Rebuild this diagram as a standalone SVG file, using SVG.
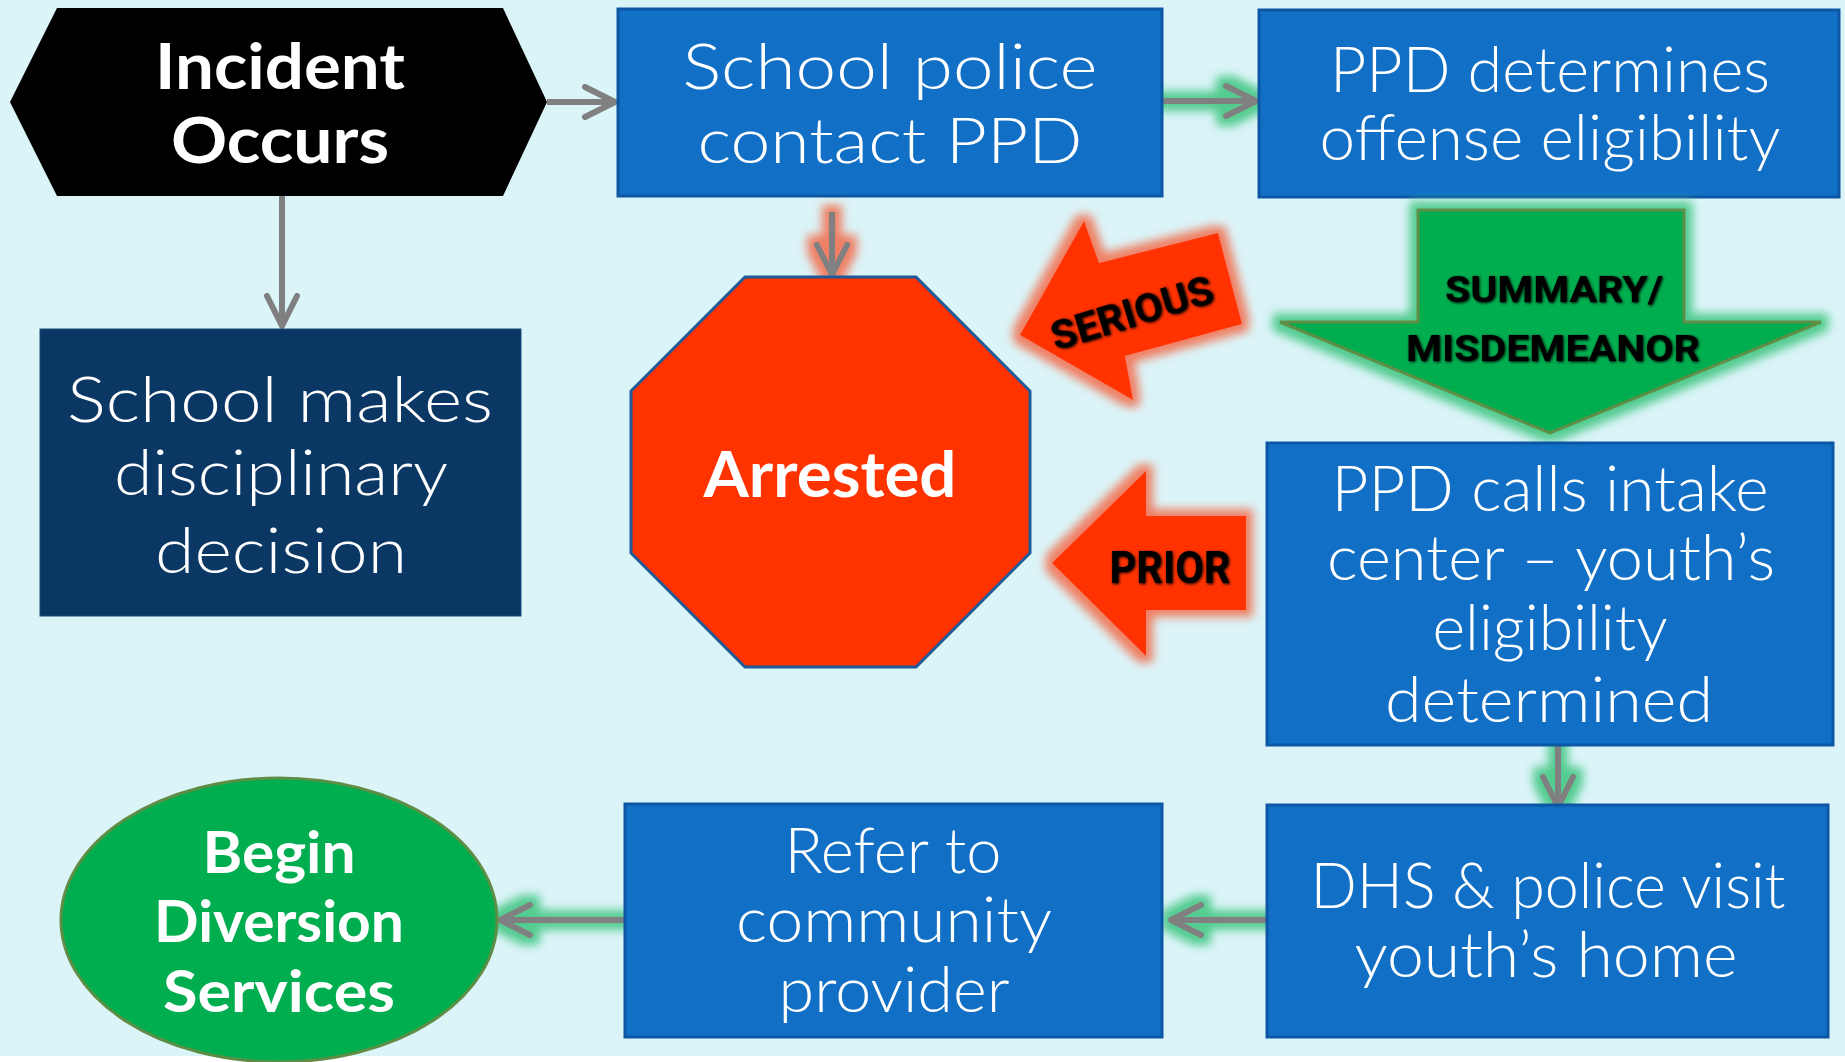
<svg xmlns="http://www.w3.org/2000/svg" width="1845" height="1062" viewBox="0 0 1845 1062">
<defs>
<style>
.bg{fill:#DBF4F8}
.box{fill:#1170C6;stroke:#0C57A3;stroke-width:3}
.navy{fill:#0B3764;stroke:#1A4A78;stroke-width:1}
.red{fill:#FF3300}
.grn{fill:#00AE4F;stroke:#5E8E45;stroke-width:3}
.t{font-family:"Century Gothic","Lato","Noto Sans",sans-serif;font-weight:300;font-size:64px;fill:#FFFFFF;text-anchor:middle}
.tb{font-family:"Century Gothic","Lato","Noto Sans",sans-serif;font-weight:700;fill:#FFFFFF;text-anchor:middle}
.lab{font-family:"Liberation Sans Narrow","Roboto","Liberation Sans",sans-serif;font-weight:700;fill:#000000;text-anchor:middle}
.con{stroke:#808080;stroke-width:6;fill:none;marker-end:url(#chev)}
</style>
<marker id="chev" viewBox="0 0 38 36" refX="34" refY="18" markerWidth="38" markerHeight="36" markerUnits="userSpaceOnUse" orient="auto">
<path d="M4,3 L34,18 L4,33" fill="none" stroke="#808080" stroke-width="6" stroke-linecap="round" stroke-linejoin="round"/>
</marker>
<filter id="glowG" filterUnits="userSpaceOnUse" x="0" y="0" width="1845" height="1062">
<feMorphology in="SourceAlpha" operator="dilate" radius="7" result="d"/>
<feGaussianBlur in="d" stdDeviation="5" result="b"/>
<feFlood flood-color="#4CC98A" flood-opacity="0.95"/>
<feComposite in2="b" operator="in" result="g"/>
<feMerge><feMergeNode in="g"/><feMergeNode in="SourceGraphic"/></feMerge>
</filter>
<filter id="glowR" filterUnits="userSpaceOnUse" x="0" y="0" width="1845" height="1062">
<feMorphology in="SourceAlpha" operator="dilate" radius="7" result="d"/>
<feGaussianBlur in="d" stdDeviation="5" result="b"/>
<feFlood flood-color="#F07A5C" flood-opacity="0.95"/>
<feComposite in2="b" operator="in" result="g"/>
<feMerge><feMergeNode in="g"/><feMergeNode in="SourceGraphic"/></feMerge>
</filter>
<filter id="shd" x="-10%" y="-20%" width="120%" height="140%">
<feGaussianBlur in="SourceAlpha" stdDeviation="1.6" result="b"/>
<feOffset in="b" dx="1" dy="1" result="o"/>
<feMerge><feMergeNode in="o"/><feMergeNode in="SourceGraphic"/></feMerge>
</filter>
</defs>

<rect x="0" y="0" width="1845" height="1062" fill="#FFFFFF"/>
<rect class="bg" x="0" y="0" width="1845" height="1056"/>

<g id="connectors">
<path class="con" d="M547,102 L615,102"/>
<path class="con" d="M282,196 L282,326"/>
<path class="con" filter="url(#glowR)" d="M832,212 L832,275"/>
<path class="con" filter="url(#glowG)" d="M1162,101 L1256,101"/>
<path class="con" filter="url(#glowG)" d="M1558,743 L1558,807"/>
<path class="con" filter="url(#glowG)" d="M1266,920 L1171,920"/>
<path class="con" filter="url(#glowG)" d="M625,920 L500,920"/>
</g>

<g id="incident">
<polygon points="10,102 57,8 503,8 547,102 503,196 57,196" fill="#000000"/>
<text class="tb" x="280" y="89" font-size="64" textLength="250" lengthAdjust="spacingAndGlyphs">Incident</text>
<text class="tb" x="280" y="163" font-size="64" textLength="218" lengthAdjust="spacingAndGlyphs">Occurs</text>
</g>

<g id="school-police">
<rect class="box" x="618" y="9" width="544" height="187"/>
<text class="t" x="890" y="89" textLength="415" lengthAdjust="spacingAndGlyphs">School police</text>
<text class="t" x="890" y="163" textLength="385" lengthAdjust="spacingAndGlyphs">contact PPD</text>
</g>

<g id="ppd-determines">
<rect class="box" x="1259" y="10" width="580" height="187"/>
<text class="t" x="1550" y="92" textLength="440" lengthAdjust="spacingAndGlyphs">PPD determines</text>
<text class="t" x="1550" y="160" textLength="461" lengthAdjust="spacingAndGlyphs">offense eligibility</text>
</g>

<g id="school-makes">
<rect class="navy" x="40" y="329" width="481" height="287"/>
<text class="t" x="280" y="422" textLength="426" lengthAdjust="spacingAndGlyphs">School makes</text>
<text class="t" x="281" y="495" textLength="334" lengthAdjust="spacingAndGlyphs">disciplinary</text>
<text class="t" x="281" y="573" textLength="252" lengthAdjust="spacingAndGlyphs">decision</text>
</g>

<g id="arrested">
<polygon points="745,277 916,277 1030,391 1030,553 916,667 745,667 631,553 631,391" fill="#FF3300" stroke="#1F5A9A" stroke-width="3"/>
<text class="tb" x="830" y="497" font-size="64" textLength="253" lengthAdjust="spacingAndGlyphs">Arrested</text>
</g>

<g id="serious">
<polygon class="red" filter="url(#glowR)" points="1020,335 1084,221 1099,263 1218,233 1242,324 1125,356 1133,400"/>
<text class="lab" filter="url(#shd)" x="1132" y="327" font-size="40" transform="rotate(-17 1132 313)" textLength="168" lengthAdjust="spacingAndGlyphs">SERIOUS</text>
</g>

<g id="summary">
<path class="grn" filter="url(#glowG)" d="M1418,210 L1684,210 L1684,322 L1821,322 L1550,433 L1280,322 L1418,322 Z"/>
<text class="lab" filter="url(#shd)" x="1554" y="302" font-size="37" textLength="218" lengthAdjust="spacingAndGlyphs">SUMMARY/</text>
<text class="lab" filter="url(#shd)" x="1553" y="361" font-size="37" textLength="294" lengthAdjust="spacingAndGlyphs">MISDEMEANOR</text>
</g>

<g id="prior">
<polygon class="red" filter="url(#glowR)" points="1052,563 1146,471 1146,516 1246,516 1246,610 1146,610 1146,656"/>
<text class="lab" filter="url(#shd)" x="1170" y="583" font-size="44" textLength="121" lengthAdjust="spacingAndGlyphs">PRIOR</text>
</g>

<g id="ppd-calls">
<rect class="box" x="1267" y="443" width="566" height="302"/>
<text class="t" x="1550" y="511" textLength="437" lengthAdjust="spacingAndGlyphs">PPD calls intake</text>
<text class="t" x="1551" y="580" textLength="448" lengthAdjust="spacingAndGlyphs">center – youth’s</text>
<text class="t" x="1550" y="650" textLength="235" lengthAdjust="spacingAndGlyphs">eligibility</text>
<text class="t" x="1549" y="722" textLength="328" lengthAdjust="spacingAndGlyphs">determined</text>
</g>

<g id="dhs">
<rect class="box" x="1267" y="805" width="561" height="232"/>
<text class="t" x="1548" y="908" textLength="475" lengthAdjust="spacingAndGlyphs">DHS &amp; police visit</text>
<text class="t" x="1546" y="977" textLength="383" lengthAdjust="spacingAndGlyphs">youth’s home</text>
</g>

<g id="refer">
<rect class="box" x="625" y="804" width="537" height="233"/>
<text class="t" x="893" y="873" textLength="217" lengthAdjust="spacingAndGlyphs">Refer to</text>
<text class="t" x="894" y="942" textLength="316" lengthAdjust="spacingAndGlyphs">community</text>
<text class="t" x="894" y="1012" textLength="231" lengthAdjust="spacingAndGlyphs">provider</text>
</g>

<g id="begin">
<ellipse cx="279" cy="920" rx="218" ry="142" fill="#00AE4F" stroke="#5E8E45" stroke-width="3"/>
<text class="tb" x="279" y="873" font-size="58" textLength="153" lengthAdjust="spacingAndGlyphs">Begin</text>
<text class="tb" x="279" y="942" font-size="58" textLength="250" lengthAdjust="spacingAndGlyphs">Diversion</text>
<text class="tb" x="279" y="1012" font-size="58" textLength="232" lengthAdjust="spacingAndGlyphs">Services</text>
</g>
</svg>
